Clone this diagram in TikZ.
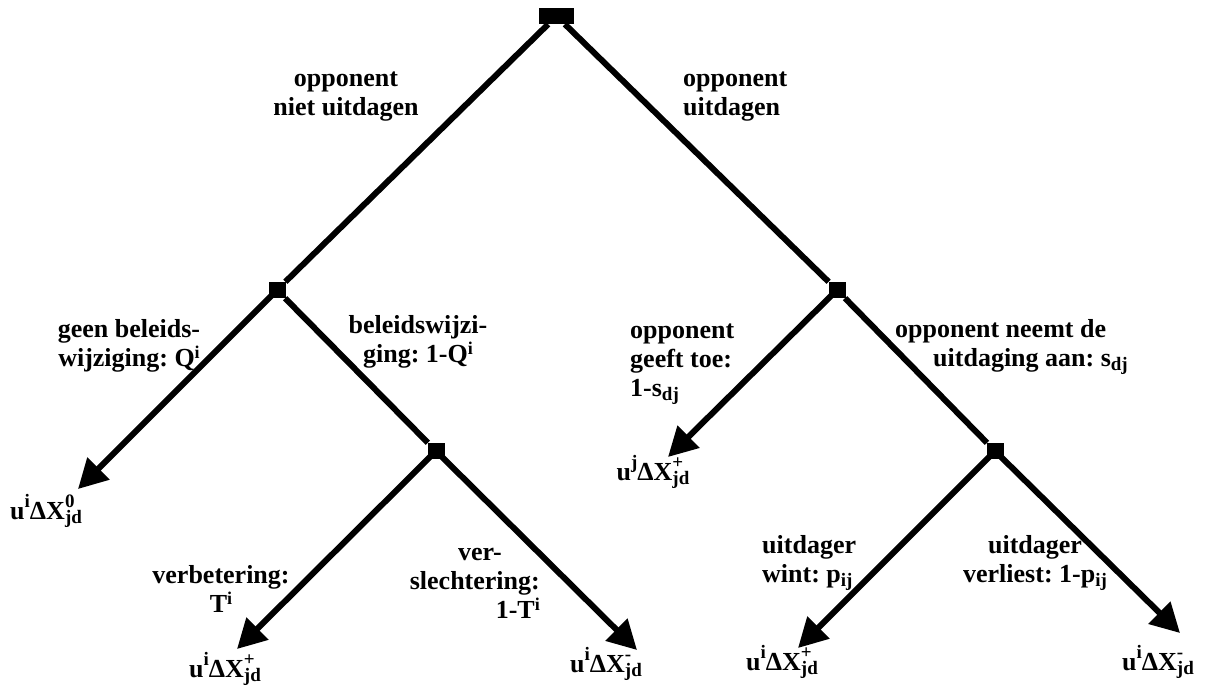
\documentclass[tikz,border=0pt]{standalone}
\usepackage{fontspec}
\setmainfont{Liberation Serif}
\usetikzlibrary{arrows.meta}
\frenchspacing
\newcommand{\Sp}[1]{\smash{\raisebox{8pt}{\fontsize{18}{18}\selectfont #1}}}
\newcommand{\Sb}[1]{\smash{\raisebox{-4pt}{\fontsize{19}{19}\selectfont #1}}}
\newcommand{\Lp}[1]{\smash{\raisebox{12pt}{\fontsize{19}{19}\selectfont #1}}}
\newcommand{\SpSb}[2]{\rlap{\Lp{#1}}\Sb{#2}}
\begin{document}
\begin{tikzpicture}[x=1pt,y=-1pt,
  font=\fontsize{26}{29}\selectfont\bfseries\frenchspacing,
  branch/.style={line width=6pt},
  arr/.style={branch,-{Triangle[length=29pt,width=30pt]}},
  chance/.style={fill=black,draw=none,minimum width=17pt,minimum height=16pt,inner sep=0pt},
  lbl/.style={inner sep=0pt,align=center,anchor=base},
  lblL/.style={inner sep=0pt,align=left,anchor=base west},
  lblR/.style={inner sep=0pt,align=right,anchor=base east},
  leaf/.style={inner sep=0pt,anchor=base}]
\useasboundingbox (0,0) rectangle (1210,686);
% decision / chance nodes
\node[chance,minimum width=35pt] (root) at (556.5,16) {};
\node[chance] (nA) at (277,290) {};
\node[chance] (nB) at (837,290) {};
\node[chance] (nC) at (436,451) {};
\node[chance] (nD) at (995,451) {};
% arrow end points
\coordinate (tA) at (78,489);
\coordinate (tC1) at (237,649);
\coordinate (tC2) at (637,650);
\coordinate (tB) at (668,457);
\coordinate (tD1) at (798,648);
\coordinate (tD2) at (1180,633);
% connectors
\draw[branch] (root) -- (nA);
\draw[branch] (root) -- (nB);
\draw[branch] (nA) -- (nC);
\draw[branch] (nB) -- (nD);
\draw[arr] (nA.center) -- (tA);
\draw[arr] (nC.center) -- (tC1);
\draw[arr] (nC.center) -- (tC2);
\draw[arr] (nB.center) -- (tB);
\draw[arr] (nD.center) -- (tD1);
\draw[arr] (nD.center) -- (tD2);
% branch labels (anchor = baseline of last line)
\node[lbl] (lTL) at (346,115) {opponent\\niet uitdagen};
\node[lblL] (lTR) at (683,115) {opponent\\uitdagen};
\node[lbl] (lAL) at (129,366) {geen beleids-\\wijziging: Q\Sp{i}};
\node[lbl] (lAR) at (418,362) {beleidswijzi-\\ging: 1-Q\Sp{i}};
\node[lblL] (lBL) at (630,396) {opponent\\geeft toe:\\1-s\Sb{dj}};
\node[lblL] (lBR) at (895,366) {opponent neemt de\\\hspace*{38pt}uitdaging aan: s\Sb{dj}};
\node[lbl] (lCL) at (221,612) {verbetering:\\T\Sp{i}};
\node[lblR] (lCR) at (540,618) {ver-\hspace*{38pt}\\slechtering:\\1-T\Sp{i}};
\node[lblL] (lDL) at (762,582) {uitdager\\wint: p\Sb{ij}};
\node[lbl] (lDR) at (1035,582) {uitdager\\verliest: 1-p\Sb{ij}};
% outcomes
\node[leaf,anchor=base west] (oA) at (10,519) {u\Lp{i}ΔX\SpSb{0}{jd}};
\node[leaf] (oC1) at (225,677) {u\Lp{i}ΔX\SpSb{+}{jd}};
\node[leaf] (oC2) at (606,672) {u\Lp{i}ΔX\SpSb{-}{jd}};
\node[leaf] (oB) at (653,480) {u\Lp{j}ΔX\SpSb{+}{jd}};
\node[leaf] (oD1) at (782,670) {u\Lp{i}ΔX\SpSb{+}{jd}};
\node[leaf] (oD2) at (1158,670) {u\Lp{i}ΔX\SpSb{-}{jd}};
\end{tikzpicture}
\end{document}
